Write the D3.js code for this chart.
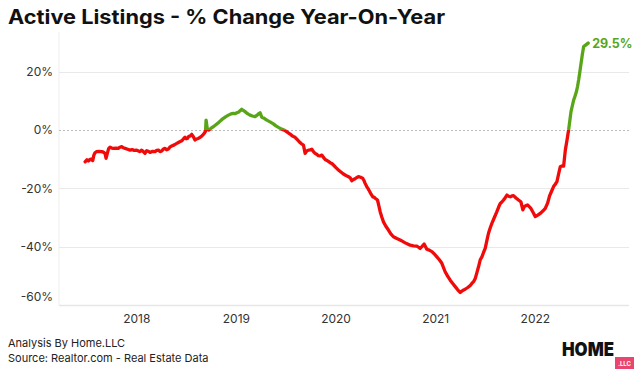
<!DOCTYPE html>
<html><head><meta charset="utf-8">
<script src="https://cdn.jsdelivr.net/npm/d3@7"></script>
<style>html,body{margin:0;padding:0;background:#fff;}svg{display:block;}</style>
</head><body><svg id="c" width="644" height="380"></svg>
<script>
const title = "Active Listings - % Change Year-On-Year";
const footLines = ["Analysis By Home.LLC", "Source: Realtor.com - Real Estate Data"];
const yearTicks = [2018, 2019, 2020, 2021, 2022];
const yTicks = [20, 0, -20, -40, -60];
const endLabel = "29.5%";
const dates = [
2017.482,2017.500,2017.515,2017.531,2017.545,2017.558,2017.570,2017.581,2017.598,2017.620,2017.649,2017.665,2017.682,2017.692,2017.705,2017.718,2017.732,2017.750,2017.765,2017.790,2017.815,2017.832,2017.849,2017.866,2017.883,2017.908,2017.933,2017.955,2017.975,
2018.000,2018.017,2018.033,2018.050,2018.066,2018.083,2018.100,2018.117,2018.134,2018.160,2018.184,2018.200,2018.217,2018.234,2018.251,2018.267,2018.284,2018.300,2018.318,2018.335,2018.351,2018.377,2018.402,2018.427,2018.452,2018.470,2018.485,2018.497,2018.508,2018.522,2018.535,2018.552,2018.568,2018.585,2018.600,2018.618,2018.635,2018.652,2018.666,2018.679,2018.690,2018.696,2018.709,2018.722,2018.736,2018.752,2018.769,2018.794,2018.819,2018.845,2018.870,2018.895,2018.920,2018.945,2018.970,2018.987,
2019.004,2019.020,2019.037,2019.054,2019.070,2019.087,2019.112,2019.137,2019.160,2019.188,2019.205,2019.221,2019.238,2019.255,2019.280,2019.305,2019.338,2019.371,2019.397,2019.422,2019.455,2019.489,2019.514,2019.539,2019.564,2019.589,2019.614,2019.639,2019.656,2019.673,2019.690,2019.706,2019.723,2019.740,2019.757,2019.773,2019.790,2019.806,2019.823,2019.840,2019.857,2019.874,2019.891,2019.916,2019.941,2019.958,2019.974,2019.999,
2020.024,2020.049,2020.074,2020.100,2020.125,2020.142,2020.158,2020.175,2020.192,2020.208,2020.225,2020.247,2020.269,2020.280,2020.292,2020.308,2020.325,2020.347,2020.369,2020.380,2020.393,2020.416,2020.430,2020.443,2020.460,2020.476,2020.500,2020.526,2020.550,2020.576,2020.610,2020.643,2020.669,2020.694,2020.719,2020.744,2020.778,2020.811,2020.828,2020.844,2020.864,2020.884,2020.911,2020.936,2020.962,2020.987,
2021.012,2021.037,2021.062,2021.095,2021.120,2021.146,2021.171,2021.196,2021.221,2021.246,2021.271,2021.296,2021.322,2021.347,2021.363,2021.380,2021.397,2021.413,2021.430,2021.447,2021.464,2021.480,2021.497,2021.513,2021.530,2021.547,2021.564,2021.589,2021.614,2021.631,2021.648,2021.664,2021.681,2021.698,2021.715,2021.731,2021.748,2021.765,2021.781,2021.806,2021.831,2021.855,2021.875,2021.889,2021.906,2021.922,2021.939,2021.956,2021.978,
2022.000,2022.025,2022.049,2022.075,2022.100,2022.123,2022.143,2022.163,2022.183,2022.200,2022.217,2022.234,2022.250,2022.267,2022.284,2022.301,2022.318,2022.334,2022.346,2022.358,2022.372,2022.385,2022.398,2022.412,2022.424,2022.435,2022.447,2022.459,2022.472,2022.485,2022.530
];
const values = [
-10.9,-10.2,-10.6,-10.1,-10.0,-10.5,-8.6,-7.8,-7.4,-7.3,-7.4,-7.6,-8.0,-9.7,-8.0,-6.4,-5.9,-6.2,-6.3,-6.2,-6.3,-5.9,-5.7,-6.1,-6.3,-6.6,-6.9,-6.7,-7.0,
-6.9,-7.2,-7.4,-6.9,-7.4,-8.0,-7.1,-7.3,-7.7,-7.3,-7.4,-7.0,-6.9,-7.4,-7.2,-6.5,-6.3,-6.8,-6.5,-5.8,-5.5,-5.1,-4.6,-4.1,-3.7,-3.0,-2.5,-3.0,-2.9,-2.2,-2.1,-1.5,-2.3,-3.4,-3.1,-2.9,-2.5,-2.1,-1.6,-1.1,-0.5,3.4,0.2,0.0,0.3,0.8,1.1,1.8,2.5,3.3,4.0,4.6,5.1,5.5,5.7,5.6,
5.9,6.1,6.6,7.1,6.7,6.3,5.6,5.1,4.8,4.6,5.0,5.5,5.9,4.4,4.0,3.4,2.8,2.1,1.4,0.9,0.3,-0.2,-0.8,-1.4,-2.1,-2.5,-3.4,-4.3,-4.8,-5.2,-8.0,-7.2,-6.9,-6.8,-6.6,-7.4,-8.0,-8.3,-8.8,-8.9,-8.6,-9.4,-10.1,-10.6,-11.2,-11.5,-12.0,-12.9,
-13.7,-14.4,-15.1,-15.6,-16.0,-16.4,-17.4,-17.0,-16.7,-16.3,-16.0,-16.2,-16.6,-17.3,-18.3,-19.4,-20.3,-21.7,-22.9,-23.0,-23.4,-24.0,-26.0,-28.0,-29.9,-31.5,-33.0,-34.3,-35.6,-36.6,-37.2,-37.7,-38.2,-38.7,-39.1,-39.5,-39.7,-39.8,-40.2,-40.6,-39.9,-39.1,-40.9,-41.2,-41.7,-42.5,
-43.5,-44.5,-45.7,-48.6,-50.1,-51.5,-52.6,-53.7,-54.8,-55.7,-55.0,-54.6,-54.0,-53.3,-52.6,-52.0,-50.9,-49.0,-46.9,-44.5,-43.5,-42.0,-40.6,-38.0,-35.4,-33.6,-32.0,-30.0,-28.0,-26.5,-25.2,-24.7,-24.0,-23.2,-22.3,-22.7,-22.9,-22.6,-22.5,-23.3,-24.0,-24.6,-27.4,-26.3,-25.9,-25.7,-26.3,-26.9,-28.3,
-29.7,-29.2,-28.6,-27.8,-26.9,-25.1,-22.6,-21.0,-19.4,-18.6,-17.7,-15.0,-12.6,-12.3,-12.4,-6.9,-3.4,0.0,3.2,6.3,8.4,10.3,11.6,13.1,15.0,17.2,20.0,22.9,26.0,28.6,29.8
];
const data = dates.map((d, i) => ({ d, v: values[i] }));

const RED = "#f00a0a", GREEN = "#58a618";
const svg = d3.select("#c");
const L = 59, R = 629, T = 32, B = 305;
const x = d3.scaleLinear().domain([2017.22, 2022.94]).range([L, R]);
const y = d3.scaleLinear().domain([-60, 33.6]).range([B, T]);

const F = "Inter, 'Open Sans', sans-serif";

svg.append("text").attr("x", 8).attr("y", 24).attr("font-family", F)
  .attr("font-weight", 700).attr("font-size", 20).attr("fill", "#111")
  .attr("textLength", 437).attr("lengthAdjust", "spacingAndGlyphs").text(title);

// left faint axis line
svg.append("line").attr("x1", L).attr("x2", L).attr("y1", T).attr("y2", B)
  .attr("stroke", "#efefef").attr("stroke-width", 1);

// grid
const g = svg.append("g");
yTicks.forEach(t => {
  const yy = Math.round(y(t)) + 0.5;
  const ln = g.append("line").attr("x1", L).attr("x2", R).attr("y1", yy).attr("y2", yy);
  if (t === 0) ln.attr("stroke", "#bdbdbd").attr("stroke-dasharray", "2,2").attr("stroke-width", 1);
  else if (t === -60) ln.attr("stroke", "#e6e6e6").attr("stroke-width", 1.5);
  else ln.attr("stroke", "#e9e9e9").attr("stroke-width", 1);
  g.append("text").attr("x", 53).attr("y", t === -60 ? y(t) - 8.5 : y(t))
    .attr("dy", "0.35em").attr("text-anchor", "end").attr("font-family", F)
    .attr("font-size", 12).attr("fill", "#333").text(t + "%");
});

yearTicks.forEach(yr => {
  svg.append("text").attr("x", x(yr)).attr("y", 323).attr("text-anchor", "middle")
    .attr("font-family", F).attr("font-size", 12).attr("fill", "#333").text(yr);
});

// clipped line
const defs = svg.append("defs");
defs.append("clipPath").attr("id", "above").append("rect")
  .attr("x", 0).attr("y", 0).attr("width", 644).attr("height", y(0));
defs.append("clipPath").attr("id", "below").append("rect")
  .attr("x", 0).attr("y", y(0)).attr("width", 644).attr("height", 380 - y(0));
const line = d3.line().x(d => x(d.d)).y(d => y(d.v));
[["below", RED], ["above", GREEN]].forEach(([id, col]) => {
  svg.append("path").datum(data).attr("d", line).attr("clip-path", `url(#${id})`)
    .attr("fill", "none").attr("stroke", col).attr("stroke-width", 3.3)
    .attr("stroke-linejoin", "round").attr("stroke-linecap", "round");
});

const last = data[data.length - 1];
svg.append("text").attr("x", x(last.d) + 4).attr("y", y(29.5)).attr("dy", "0.35em")
  .attr("font-family", F).attr("font-weight", 700).attr("font-size", 12.5)
  .attr("fill", GREEN).text(endLabel);

// footer
footLines.forEach((t, i) => {
  svg.append("text").attr("x", 8).attr("y", 347 + i * 15).attr("font-family", F)
    .attr("font-size", 11).attr("fill", "#222").text(t);
});

// logo
svg.append("text").attr("x", 562).attr("y", 356).attr("font-family", F)
  .attr("font-weight", 900).attr("font-size", 19).attr("fill", "#111")
  .attr("textLength", 52).attr("lengthAdjust", "spacingAndGlyphs").text("HOME");
svg.append("rect").attr("x", 615).attr("y", 357).attr("width", 19).attr("height", 12).attr("fill", "#e8456f");
svg.append("text").attr("x", 624.5).attr("y", 365.5).attr("text-anchor", "middle")
  .attr("font-family", F).attr("font-weight", 700).attr("font-size", 6).attr("fill", "#fff").text(".LLC");
</script></body></html>
